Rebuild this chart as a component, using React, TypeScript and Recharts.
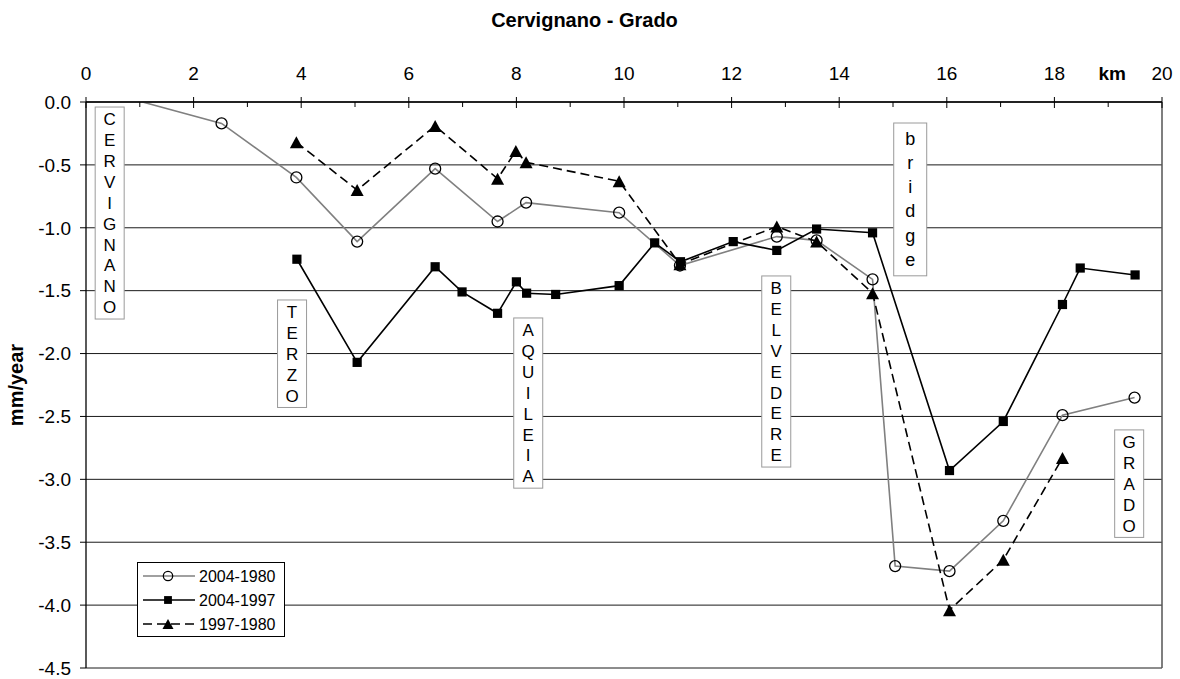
import React from 'react';
import { LineChart, Line, XAxis, YAxis, CartesianGrid, ReferenceLine, ReferenceDot, Legend, Label } from 'recharts';

const FONT = '"Liberation Sans", Arial, Helvetica, sans-serif';

// axis ticks
const kmTicks = [0, 1, 2, 3, 4, 5, 6, 7, 8, 9, 10, 11, 12, 13, 14, 15, 16, 17, 18, 19, 20];
const mmTicks = [0, -0.5, -1, -1.5, -2, -2.5, -3, -3.5, -4, -4.5];

// 2004-1980 (grey, open circles)
const km2004_1980 = [1.05, 2.52, 3.91, 5.04, 6.49, 7.65, 8.18, 9.91, 11.04, 12.84, 13.58, 14.62, 15.04, 16.05, 17.05, 18.15, 19.49];
const mm2004_1980 = [0, -0.17, -0.6, -1.11, -0.53, -0.95, -0.8, -0.88, -1.3, -1.07, -1.1, -1.41, -3.69, -3.73, -3.33, -2.49, -2.35];

// 2004-1997 (black, squares)
const km2004_1997 = [3.92, 5.04, 6.49, 6.99, 7.65, 8.0, 8.19, 8.73, 9.91, 10.57, 11.05, 12.03, 12.84, 13.58, 14.62, 16.05, 17.05, 18.15, 18.48, 19.5];
const mm2004_1997 = [-1.25, -2.07, -1.31, -1.51, -1.68, -1.43, -1.52, -1.53, -1.46, -1.12, -1.27, -1.11, -1.18, -1.01, -1.04, -2.93, -2.54, -1.61, -1.32, -1.375];

// 1997-1980 (black dashed, triangles)
const km1997_1980 = [3.91, 5.04, 6.49, 7.65, 7.99, 8.18, 9.91, 11.04, 12.84, 13.58, 14.62, 16.05, 17.05, 18.15];
const mm1997_1980 = [-0.32, -0.7, -0.19, -0.61, -0.39, -0.48, -0.63, -1.29, -0.99, -1.11, -1.52, -4.04, -3.64, -2.83];

// place names along the line, anchored at (km, top of box in mm/year)
const places = ['CERVIGNANO', 'TERZO', 'AQUILEIA', 'BELVEDERE', 'bridge', 'GRADO'];
const placeKm = [0.44, 3.83, 8.22, 12.83, 15.32, 19.39];
const placeTop = [-0.04, -1.574, -1.717, -1.383, -0.167, -2.607];

const toRows = (km: number[], mm: number[]) => km.map((k, i) => ({ km: k, mm: mm[i] }));

type MarkerKind = 'circle' | 'square' | 'triangle';

const series = [
  { name: '2004-1980', rows: toRows(km2004_1980, mm2004_1980), stroke: '#808080', dash: undefined as string | undefined, marker: 'circle' as MarkerKind },
  { name: '2004-1997', rows: toRows(km2004_1997, mm2004_1997), stroke: '#000', dash: undefined as string | undefined, marker: 'square' as MarkerKind },
  { name: '1997-1980', rows: toRows(km1997_1980, mm1997_1980), stroke: '#000', dash: '9 5', marker: 'triangle' as MarkerKind },
];

const Marker = ({ kind, cx, cy, s = 1 }: { kind: MarkerKind; cx: number; cy: number; s?: number }) => {
  if (kind === 'circle') {
    return <circle cx={cx} cy={cy} r={5.5 * s} fill="none" stroke="#000" strokeWidth={1.3} />;
  }
  if (kind === 'square') {
    const h = 4.6 * s;
    return <rect x={cx - h} y={cy - h} width={2 * h} height={2 * h} fill="#000" />;
  }
  const w = 6.5 * s;
  const ht = 12 * s;
  return <polygon points={`${cx - w},${cy + ht / 2} ${cx + w},${cy + ht / 2} ${cx},${cy - ht / 2}`} fill="#000" />;
};

const makeDot = (kind: MarkerKind, skipFirst: boolean) => (props: any) => {
  const { cx, cy, index } = props;
  if (cx == null || cy == null || (skipFirst && index === 0)) return <g key={`d-${index}`} />;
  return (
    <g key={`d-${index}`}>
      <Marker kind={kind} cx={cx} cy={cy} />
    </g>
  );
};

const KmTick = (props: any) => {
  const { x, y, payload } = props;
  const v = payload.value;
  const major = v % 2 === 0;
  return (
    <g>
      <line x1={x} x2={x} y1={major ? y - 5 : y} y2={y + (major ? 6 : 5)} stroke="#000" />
      {major && (
        <text x={x} y={y - 22} textAnchor="middle" fontSize={19} fontFamily={FONT} fill="#000">
          {v}
        </text>
      )}
      {v === 19 && (
        <text x={x + 4} y={y - 22} textAnchor="middle" fontSize={19} fontWeight="bold" fontFamily={FONT} fill="#000">
          km
        </text>
      )}
    </g>
  );
};

const upperBox = { w: 29, step: 20.9, pad: 1.5, first: 18.1, fs: 17 };
const lowerBox = { w: 33, step: 24.3, pad: 3.5, first: 21.5, fs: 18 };

const PlaceBox = ({ cx, cy, text }: { cx: number; cy: number; text: string }) => {
  const st = text === text.toLowerCase() ? lowerBox : upperBox;
  const letters = text.split('');
  const h = letters.length * st.step + st.pad * 2;
  return (
    <g>
      <rect x={cx - st.w / 2} y={cy} width={st.w} height={h} fill="#fff" stroke="#9a9a9a" />
      {letters.map((ch, i) => (
        <text key={i} x={cx} y={cy + st.first + i * st.step} textAnchor="middle" fontSize={st.fs} fontFamily={FONT} fill="#000">
          {ch}
        </text>
      ))}
    </g>
  );
};

const LegendBox = () => (
  <svg width={148} height={75} style={{ display: 'block' }}>
    <rect x={0.5} y={0.5} width={147} height={74} fill="#fff" stroke="#000" />
    {series.map((s, i) => {
      const cy = 14 + i * 24;
      return (
        <g key={s.name}>
          <line x1={6} x2={58} y1={cy} y2={cy} stroke={s.stroke} strokeWidth={1.6} strokeDasharray={s.dash} />
          <Marker kind={s.marker} cx={31} cy={cy} s={0.85} />
          <text x={62} y={cy + 5.8} fontSize={16} fontFamily={FONT} fill="#000">
            {s.name}
          </text>
        </g>
      );
    })}
  </svg>
);

const YLabel = (props: any) => {
  const { viewBox } = props;
  const cx = viewBox.x + 23;
  const cy = viewBox.y + viewBox.height / 2;
  return (
    <text x={cx} y={cy} transform={`rotate(-90 ${cx} ${cy})`} textAnchor="middle" fontSize={20} fontWeight="bold" fontFamily={FONT} fill="#000">
      mm/year
    </text>
  );
};

export default function App() {
  return (
    <div style={{ position: 'absolute', left: 0, top: 0, width: 1180, height: 679, background: '#fff', fontFamily: FONT }}>
      <div
        style={{
          position: 'absolute',
          left: 0,
          top: 10,
          width: 1169,
          textAlign: 'center',
          fontSize: 20,
          lineHeight: '20px',
          fontWeight: 'bold',
          color: '#000',
        }}
      >
        Cervignano - Grado
      </div>
      <LineChart width={1180} height={679} margin={{ top: 62, right: 18, bottom: 11, left: 0 }}>
        <CartesianGrid vertical={false} stroke="#1a1a1a" strokeWidth={1} />
        <XAxis
          dataKey="km"
          type="number"
          orientation="top"
          domain={[0, 20]}
          ticks={kmTicks}
          interval={0}
          height={40}
          tickSize={0}
          tickMargin={0}
          tickLine={false}
          axisLine={{ stroke: '#000', strokeWidth: 1.3 }}
          tick={<KmTick />}
          allowDuplicatedCategory={false}
        />
        <YAxis
          type="number"
          dataKey="mm"
          domain={[-4.5, 0]}
          ticks={mmTicks}
          interval={0}
          width={86}
          tickSize={6}
          tickMargin={9}
          tickFormatter={(v: number) => v.toFixed(1)}
          tick={{ fontSize: 19, fill: '#000', fontFamily: FONT }}
          tickLine={{ stroke: '#000' }}
          axisLine={{ stroke: '#000', strokeWidth: 1.3 }}
        >
          <Label content={<YLabel />} />
        </YAxis>
        <ReferenceLine x={20} stroke="#555" strokeWidth={1.5} />
        {places.map((p, i) => (
          <ReferenceDot
            key={p}
            x={placeKm[i]}
            y={placeTop[i]}
            r={0}
            ifOverflow="visible"
            shape={(props: any) => <PlaceBox cx={props.cx} cy={props.cy} text={p} />}
          />
        ))}
        {series.map((s, i) => (
          <Line
            key={s.name}
            data={s.rows}
            dataKey="mm"
            name={s.name}
            type="linear"
            stroke={s.stroke}
            strokeWidth={1.6}
            strokeDasharray={s.dash}
            dot={makeDot(s.marker, i === 0)}
            activeDot={false}
            isAnimationActive={false}
          />
        ))}
        <Legend
          layout="horizontal"
          verticalAlign="middle"
          align="center"
          wrapperStyle={{ position: 'absolute', left: 137, top: 562, width: 148, height: 75 }}
          content={() => <LegendBox />}
        />
      </LineChart>
    </div>
  );
}
